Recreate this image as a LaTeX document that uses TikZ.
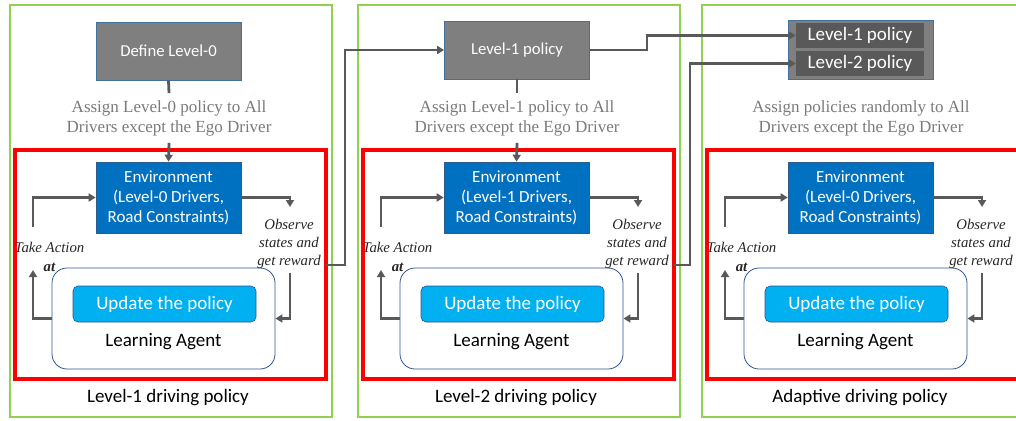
\documentclass[tikz,border=0pt]{standalone}
\usepackage{fontspec}
\setmainfont{Liberation Serif}
\newfontfamily\calfont{Carlito}
\usetikzlibrary{arrows.meta}
\definecolor{panelgreen}{HTML}{92D050}
\definecolor{linegray}{HTML}{595959}
\definecolor{boxgray}{HTML}{7F7F7F}
\definecolor{boxdark}{HTML}{595959}
\definecolor{boxedge}{HTML}{41719C}
\definecolor{envblue}{HTML}{0070C0}
\definecolor{envedge}{HTML}{2E5C8A}
\definecolor{updblue}{HTML}{00B0F0}
\definecolor{agentedge}{HTML}{2F5597}
\definecolor{textgray}{HTML}{7A7A7A}
\definecolor{labelink}{HTML}{262626}
\tikzset{
  conn/.style={draw=linegray, line width=2.8pt, -{Triangle[length=7pt,width=8pt]}},
  plain/.style={draw=linegray, line width=2.8pt},
  greenbox/.style={draw=panelgreen, line width=2.5pt},
  redbox/.style={draw=red, line width=4pt},
  topbox/.style={draw=boxedge, fill=boxgray, line width=0.8pt, minimum width=145pt,
    minimum height=58pt, text=white, font=\calfont\fontsize{16.7}{18}\selectfont},
  stackbox/.style={draw=boxedge, fill=boxgray, line width=0.8pt, minimum width=145pt, minimum height=59pt},
  policybox/.style={fill=boxdark, minimum width=128pt, minimum height=25pt, inner sep=0pt,
    text=white, font=\calfont\fontsize{19}{20}\selectfont},
  envbox/.style={draw=envedge, fill=envblue, line width=0.6pt, minimum width=145pt,
    minimum height=71pt, align=center, text=white, font=\calfont\fontsize{17}{20}\selectfont},
  agentbox/.style={draw=agentedge, fill=white, rounded corners=15pt, line width=0.8pt,
    minimum width=223pt, minimum height=101pt},
  updbox/.style={draw=agentedge, fill=updblue, rounded corners=5pt, line width=0.6pt,
    minimum width=183pt, minimum height=36pt, text=white, font=\calfont\fontsize{19}{20}\selectfont},
  assigntext/.style={text=textgray, align=center, inner ysep=7pt, font=\fontsize{17}{20}\selectfont},
  looplabel/.style={text=labelink, align=center, inner sep=0pt, font=\itshape\fontsize{14.8}{18}\selectfont},
  agentlabel/.style={font=\calfont\fontsize{19}{20}\selectfont},
  caption/.style={font=\calfont\fontsize{19}{20}\selectfont}
}
\begin{document}
\begin{tikzpicture}[x=1pt,y=-1pt]
\useasboundingbox (0,0) rectangle (1016,420);
\clip (0,0) rectangle (1016,420);

% the three training stages share one layout
\foreach \dx/\i/\drv/\assign/\cap in {
  0/1/0/{Assign Level-0 policy to All}/{Level-1 driving policy},
  348/2/1/{Assign Level-1 policy to All}/{Level-2 driving policy},
  692/3/0/{Assign policies randomly to All}/{Adaptive driving policy}}{
  \begin{scope}[shift={(\dx,0)}]
    \draw[greenbox] (10,5) rectangle (332,417);
    \draw[redbox] (15,150) rectangle (326,379);
    \node[assigntext] (assign\i) at (169,118) {\assign\\Drivers except the Ego Driver};
    \node[envbox] (env\i) at (168.5,197.5) {Environment\\(Level-\drv{} Drivers,\\Road Constraints)};
    \node[agentbox] (agent\i) at (163.5,318.5) {};
    \node[updbox] (upd\i) at (164.5,304) {Update the policy};
    \node[agentlabel] (agname\i) at (163.5,342) {Learning Agent};
    \node[caption] (cap\i) at (168,398) {\cap};
    \node[looplabel] (act\i) at (49.5,257) {Take Action\\[1pt]\textbf{at}};
    \node[looplabel] (obs\i) at (289,244) {Observe\\states and\\get reward};
    \coordinate (actlo\i) at (33,270);
    \coordinate (acthi\i) at (33,227);
    \coordinate (obshi\i) at (290,207);
    \coordinate (obslo\i) at (290,273);
    \coordinate (out\i) at (326,265);
    \draw[conn] (agent\i.west) -| (actlo\i);
    \draw[conn] (acthi\i) |- (env\i.west);
    \draw[conn] (env\i.east) -| (obshi\i);
    \draw[conn] (obslo\i) |- (agent\i.east);
  \end{scope}
}

% policy sources at the top of each stage
\node[topbox] (def0) at (168.5,51) {Define Level-0};
\node[topbox] (lvl1) at (517,50) {Level-1 policy};
\node[stackbox] (pool) at (860.5,49.5) {};
\node[policybox] (pool1) at (860,35.5) {Level-1 policy};
\node[policybox] (pool2) at (860,63.5) {Level-2 policy};

\draw[plain] (def0.south) -- (assign1.north);
\draw[conn] (assign1.south) -- (env1.north);
\draw[plain] (lvl1.south) -- (assign2.north);
\draw[conn] (assign2.south) -- (env2.north);

% trained policies handed on to the next stage
\draw[conn] (out1) -- ++(19,0) |- (lvl1.west);
\draw[conn] (lvl1.east) -- ++(57,0) |- (pool1.west);
\draw[conn] (out2) -- ++(16,0) |- (pool2.west);
\end{tikzpicture}
\end{document}
